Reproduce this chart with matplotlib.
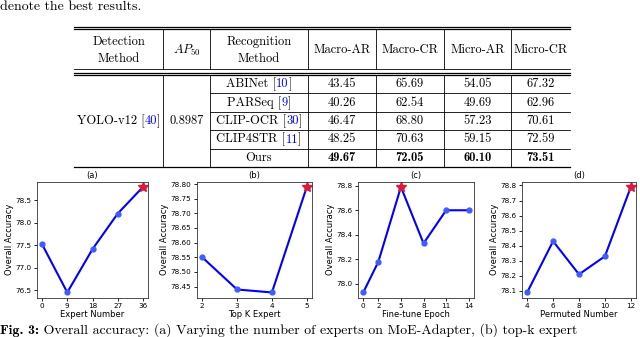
import matplotlib
matplotlib.use('Agg')
from matplotlib import pyplot as plt

# table data
columns = ['Macro-AR', 'Macro-CR', 'Micro-AR', 'Micro-CR']
methods = [('ABINet [', '10', ']'), ('PARSeq [', '9', ']'), ('CLIP-OCR [', '30', ']'),
           ('CLIP4STR [', '11', ']'), ('Ours', '', '')]
scores = [[43.45, 65.69, 54.05, 67.32],
          [40.26, 62.54, 49.69, 62.96],
          [46.47, 68.80, 57.23, 70.61],
          [48.25, 70.63, 59.15, 72.59],
          [49.67, 72.05, 60.10, 73.51]]
ap50 = '0.8987'

# ablation data
expert_num = [0, 9, 18, 27, 36]
expert_acc = [77.52, 76.45, 77.41, 78.20, 78.79]
topk = [2, 3, 4, 5]
topk_acc = [78.55, 78.44, 78.43, 78.79]
epochs = [0, 2, 5, 8, 11, 14]
epoch_acc = [77.93, 78.18, 78.79, 78.33, 78.60, 78.60]
permuted = [4, 6, 8, 10, 12]
permuted_acc = [78.09, 78.43, 78.21, 78.33, 78.79]

plt.rcParams['mathtext.fontset'] = 'cm'

fig = plt.figure(figsize=(6.4, 3.37), dpi=100)
W, H = 640, 337

page = fig.add_axes([0, 0, 1, 1])
page.set_xlim(0, W)
page.set_ylim(H, 0)
page.axis('off')

RM = dict(family='cmr10', fontsize=9)
BF = dict(family='cmb10', fontsize=9)

renderer = fig.canvas.get_renderer()


def runs(x, y, parts, colors, styles, align='center'):
    # draw a line of text from several pieces sharing one baseline
    texts = [page.text(0, y, p, ha='left', va='baseline', color=col, **st)
             for p, col, st in zip(parts, colors, styles)]
    widths = [t.get_window_extent(renderer).width for t in texts]
    if align == 'center':
        x = x - sum(widths) / 2
    for t, w in zip(texts, widths):
        t.set_x(x)
        x += w


page.text(0, 0.5, 'denote the best results.', ha='left', va='top', family='cmr10', fontsize=10)
runs(0, 334, ['Fig. 3:', ' Overall accuracy: (a) Varying the number of experts on MoE-Adapter, (b) top-k expert'],
     ['black', 'black'], [dict(family='cmb10', fontsize=10), dict(family='cmr10', fontsize=10)], align='left')

# table rules
x0, x1 = 74, 570
for y in [26.7, 29.3, 72.6, 74.9, 167.4]:
    page.plot([x0, x1], [y, y], color='black', lw=0.9)
page.plot([x0, x1], [68.5, 68.5], color='black', lw=0.6)
row_y = [74.9, 93.2, 111.7, 130.1, 148.6, 167.4]
for y in row_y[1:-1]:
    page.plot([210, x1], [y, y], color='black', lw=0.6)
vlines = [163, 210, 308, 376, 444, 511]
for x in vlines:
    page.plot([x, x], [29.3, 68.5], color='black', lw=0.6)
    page.plot([x, x], [74.9, 167.4], color='black', lw=0.6)

centers = [118.5, 186.5, 259, 342, 410, 477.5, 540.5]
page.text(centers[0], 41.5, 'Detection', ha='center', va='center', **RM)
page.text(centers[0], 59, 'Method', ha='center', va='center', **RM)
page.text(centers[1], 50, r'$AP_{50}$', ha='center', va='center', fontsize=9)
page.text(centers[2], 41.5, 'Recognition', ha='center', va='center', **RM)
page.text(centers[2], 59, 'Method', ha='center', va='center', **RM)
for i, c in enumerate(columns):
    page.text(centers[3 + i], 50, c, ha='center', va='center', **RM)

cite_colors = ['black', 'blue', 'black']
runs(centers[0], 124.3, ['YOLO-v12 [', '40', ']'], cite_colors, [RM] * 3)
page.text(centers[1], 121, ap50, ha='center', va='center', **RM)
for r, (m, s) in enumerate(zip(methods, scores)):
    yc = (row_y[r] + row_y[r + 1]) / 2
    if m[1]:
        runs(centers[2], yc + 3.3, list(m), cite_colors, [RM] * 3)
    else:
        page.text(centers[2], yc, m[0], ha='center', va='center', **RM)
    style = BF if r == len(methods) - 1 else RM
    for i, v in enumerate(s):
        page.text(centers[3 + i], yc, '%.2f' % v, ha='center', va='center', **style)

# ablation plots
panels = [
    (37, 148, expert_num, expert_acc, 'Expert Number', '(a)', [76.5, 77.0, 77.5, 78.0, 78.5], '%.1f'),
    (197, 312, topk, topk_acc, 'Top K Expert', '(b)', [78.45, 78.50, 78.55, 78.60, 78.65, 78.70, 78.75, 78.80], '%.2f'),
    (358, 474, epochs, epoch_acc, 'Fine-tune Epoch', '(c)', [78.0, 78.2, 78.4, 78.6, 78.8], '%.1f'),
    (522, 636, permuted, permuted_acc, 'Permuted Number', '(d)', [78.1, 78.2, 78.3, 78.4, 78.5, 78.6, 78.7, 78.8], '%.1f'),
]
top, bottom = 181.7, 297.7
for left, right, xs, ys, xlabel, title, yticks, fmt in panels:
    ax = fig.add_axes([left / W, (H - bottom) / H, (right - left) / W, (bottom - top) / H])
    ax.plot(xs, ys, color='blue', lw=1.5, marker='o', markersize=3.5,
            markerfacecolor='#3f5cff', markeredgecolor='#3f5cff')
    best = ys.index(max(ys))
    ax.plot(xs[best], ys[best], marker='*', color='#e0183c', markersize=8, linestyle='none')
    ax.set_xticks(xs)
    ax.set_yticks(yticks)
    ax.set_yticklabels([fmt % t for t in yticks])
    ax.tick_params(labelsize=5.2, length=2.5, width=0.6, pad=1.5)
    ax.set_xlabel(xlabel, fontsize=6, labelpad=0.5)
    ax.set_ylabel('Overall Accuracy', fontsize=6, labelpad=1)
    ax.set_title(title, fontsize=6, pad=2.5)
    for sp in ax.spines.values():
        sp.set_linewidth(0.6)
        sp.set_color('#333333')

fig.savefig('out.png', dpi=100)
